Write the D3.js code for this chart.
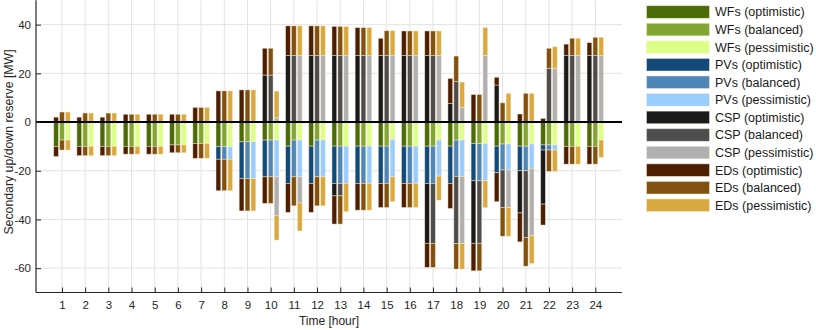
<!DOCTYPE html>
<html><head><meta charset="utf-8">
<script src="https://cdn.jsdelivr.net/npm/d3@7"></script>
<style>body{margin:0;background:#fff}svg{display:block;font-family:"Liberation Sans",Arial,sans-serif}</style>
</head><body><svg id="c" width="816" height="330"></svg>
<script>
const hours = d3.range(1, 25);
const scenarios = ["optimistic", "balanced", "pessimistic"];
const sources = ["WFs", "PVs", "CSP", "EDs"];
const yTicks = [-60, -40, -20, 0, 20, 40];

// Optimistic scenario (segment sizes, MW)
const optCSPup = [0,0,0,0,0,0,0,0,0,19.3,27.3,27.3,27.3,27.3,27.3,27.3,27.3,7.6,0,15.2,0,0,27.3,27.3];
const optEDsUp = [2.0,2.0,2.0,3.2,3.2,3.2,6.0,12.8,13.2,11.0,12.2,12.2,12.0,11.5,7.1,10.1,10.1,10.3,11.3,3.2,3.3,1.5,4.7,5.3];
const optWFsDn = [-10,-10,-10,-10,-10,-9.4,-8.8,-10.1,-8.1,-7.4,-9.9,-9.9,-9.9,-9.9,-9.9,-9.9,-9.9,-9.9,-8.8,-9.9,-9.9,-9.4,-10,-10];
const optPVsDn = [0,0,0,0,0,0,0,-5.2,-15.1,-15.1,-15.3,-15.3,-15.3,-15.3,-15.3,-15.3,-15.3,-15.3,-15.3,-10.9,-10.1,-2.1,0,0];
const optCSPdn = [0,0,0,0,0,0,0,0,0,0,0,0,-5.1,0,0,0,-24.6,0,-25.7,0,-17.3,-22.2,0,0];
const optEDsDn = [-4.2,-3.8,-3.8,-3.2,-3.2,-3.2,-6.1,-12.9,-13.3,-10.9,-11.9,-11.9,-11.6,-11.0,-9.9,-9.9,-9.9,-10.3,-11.3,-11.9,-11.9,-8.6,-7.3,-7.3];

// Balanced scenario
const balCSPup = [0,0,0,0,0,0,0,0,0,19.3,27.3,27.3,27.3,27.3,27.3,27.3,27.3,16.6,0,0,0,22.1,27.3,27.3];
const balEDsUp = [4.1,3.7,3.7,3.2,3.2,3.2,6.0,12.8,13.2,11.0,12.2,12.2,12.0,11.5,10.2,10.1,10.1,10.5,11.3,7.9,11.8,8.2,7.1,7.5];
const balWFsDn = [-7.4,-10,-10,-10,-10,-9.4,-8.8,-10.1,-8.1,-7.4,-7.4,-7.4,-9.9,-9.9,-9.9,-9.9,-9.9,-7.4,-8.8,-9.0,-9.9,-9.4,-10,-10];
const balPVsDn = [0,0,0,0,0,0,0,-5.2,-15.1,-15.1,-15.1,-15.1,-15.3,-15.3,-15.3,-15.3,-15.3,-14.9,-15.3,-10.7,-10.1,-2.1,0,0];
const balCSPdn = [0,0,0,0,0,0,0,0,0,0,0,0,-5.1,0,0,0,-24.6,-27.6,-25.7,-15.4,-27.4,0,0,0];
const balEDsDn = [-4.1,-3.8,-3.8,-3.2,-3.2,-3.2,-6.1,-12.9,-13.3,-10.9,-11.9,-11.9,-11.6,-11.0,-9.9,-9.9,-9.9,-10.5,-11.3,-11.8,-11.8,-8.8,-7.3,-7.3];

// Pessimistic scenario
const pesCSPup = [0,0,0,0,0,0,0,0,0,1.8,27.3,27.3,27.3,27.3,27.3,27.3,27.3,5.9,27.3,0,0,22.1,27.3,27.3];
const pesEDsUp = [4.1,3.7,3.7,3.2,3.2,3.2,6.0,12.8,13.2,10.9,12.2,12.2,12.0,11.5,10.2,10.1,10.1,10.5,11.5,11.8,11.8,8.8,7.1,7.5];
const pesWFsDn = [-7.4,-10,-10,-10,-10,-9.4,-8.8,-10.1,-8.1,-7.4,-7.4,-7.4,-9.9,-9.9,-7.1,-9.9,-7.4,-7.4,-8.8,-9.0,-9.0,-9.4,-10,-7.4];
const pesPVsDn = [0,0,0,0,0,0,0,-5.2,-15.1,-15.1,-15.1,-15.1,-15.3,-15.3,-15.4,-15.3,-14.8,-14.9,-15.3,-10.7,-10.0,-2.1,0,0];
const pesCSPdn = [0,0,0,0,0,0,0,0,0,-16.0,-10.7,0,0,0,0,0,0,-27.6,0,-15.4,-27.7,0,0,0];
const pesEDsDn = [-4.1,-3.8,-3.8,-3.2,-3.2,-3.2,-6.1,-12.9,-13.3,-10.0,-11.5,-11.9,-11.6,-11.0,-10.2,-9.9,-9.9,-10.5,-11.1,-11.8,-11.4,-8.8,-7.3,-7.1];

const colors = {
  WFs: ["#4a6b08", "#82a632", "#dcff85"],
  PVs: ["#124a7a", "#4f86b8", "#99ccff"],
  CSP: ["#1a1a1a", "#4d4d4d", "#b0b0b0"],
  EDs: ["#4d1f00", "#80510f", "#d9a93f"]
};

const scenData = [
  {CSPup: optCSPup, EDsUp: optEDsUp, WFsDn: optWFsDn, PVsDn: optPVsDn, CSPdn: optCSPdn, EDsDn: optEDsDn},
  {CSPup: balCSPup, EDsUp: balEDsUp, WFsDn: balWFsDn, PVsDn: balPVsDn, CSPdn: balCSPdn, EDsDn: balEDsDn},
  {CSPup: pesCSPup, EDsUp: pesEDsUp, WFsDn: pesWFsDn, PVsDn: pesPVsDn, CSPdn: pesCSPdn, EDsDn: pesEDsDn}
];
const keys = ["WFsDn", "PVsDn", "CSPup", "CSPdn", "EDsUp", "EDsDn"];
const keySource = {WFsDn: "WFs", PVsDn: "PVs", CSPup: "CSP", CSPdn: "CSP", EDsUp: "EDs", EDsDn: "EDs"};

const svg = d3.select("#c");
const L = 36, R = 622, T = 0.3, B = 292.5;
const x = d3.scaleLinear().domain([-0.12, 25.15]).range([L, R]);
const y = d3.scaleLinear().domain([-70, 50]).range([B, T]);

// grid
svg.append("g").selectAll("line").data(hours).join("line")
  .attr("x1", d => x(d)).attr("x2", d => x(d)).attr("y1", T).attr("y2", B)
  .attr("stroke", "#e3e3e3").attr("stroke-width", 1);
svg.append("g").selectAll("line").data(yTicks).join("line")
  .attr("x1", L).attr("x2", R).attr("y1", d => y(d)).attr("y2", d => y(d))
  .attr("stroke", "#e3e3e3").attr("stroke-width", 1);

// bars
const off = 0.255, bw = x(0.205) - x(0);
scenData.forEach((sd, si) => {
  const rows = hours.map((h, i) => {
    const r = {hour: h};
    keys.forEach(k => r[k] = sd[k][i]);
    return r;
  });
  const stacked = d3.stack().keys(keys).offset(d3.stackOffsetDiverging)(rows);
  const g = svg.append("g");
  stacked.forEach(layer => {
    const col = colors[keySource[layer.key]][si];
    g.selectAll(null).data(layer.filter(d => d[1] !== d[0])).join("rect")
      .attr("x", d => x(d.data.hour + (si - 1) * off) - bw / 2)
      .attr("width", bw)
      .attr("y", d => y(Math.max(d[0], d[1])))
      .attr("height", d => Math.abs(y(d[0]) - y(d[1])))
      .attr("fill", col)
      .attr("stroke", "rgba(255,240,220,0.55)").attr("stroke-width", 0.8);
  });
});

// zero line
svg.append("line").attr("x1", L).attr("x2", R).attr("y1", y(0)).attr("y2", y(0))
  .attr("stroke", "#000").attr("stroke-width", 2);

// axes
const xAxis = d3.axisBottom(x).tickValues(hours).tickSize(-5).tickPadding(8).tickFormat(d3.format("d"));
const gx = svg.append("g").attr("transform", `translate(0,${B})`).call(xAxis);
const yAxis = d3.axisLeft(y).tickValues(yTicks).tickSize(-5).tickPadding(5).tickFormat(d => d);
const gy = svg.append("g").attr("transform", `translate(${L},0)`).call(yAxis);
[gx, gy].forEach(g => {
  g.select(".domain").attr("stroke", "#262626").attr("stroke-width", 1.2);
  g.selectAll(".tick line").attr("stroke", "#262626");
  g.selectAll("text").attr("fill", "#262626").attr("font-size", 11.5).attr("font-family", "Liberation Sans, Arial, sans-serif");
});
gx.select(".domain").attr("d", `M${L},0H${R}`);
gy.select(".domain").attr("d", `M0,${B}V${T}`);

svg.append("text").attr("x", (L + R) / 2).attr("y", 325).attr("text-anchor", "middle")
  .attr("font-size", 12).attr("fill", "#262626").text("Time [hour]");
svg.append("text").attr("transform", `translate(13,${142}) rotate(-90)`).attr("text-anchor", "middle")
  .attr("font-size", 12.3).attr("fill", "#262626").text("Secondary up/down reserve [MW]");

// legend
const legendItems = [];
sources.forEach(s => scenarios.forEach((sc, si) => legendItems.push({label: `${s} (${sc})`, color: colors[s][si]})));
const lg = svg.append("g");
const lgRow = lg.selectAll("g").data(legendItems).join("g")
  .attr("transform", (d, i) => `translate(646.5,${5.7 + i * 17.57})`);
lgRow.append("rect").attr("width", 63).attr("height", 12.6).attr("fill", d => d.color)
  .attr("stroke", "rgba(255,240,220,0.6)").attr("stroke-width", 0.8);
lgRow.append("text").attr("x", 68.5).attr("y", 6.3).attr("dy", "0.35em")
  .attr("font-size", 12.5).attr("fill", "#1a1a1a").text(d => d.label);
</script></body></html>
